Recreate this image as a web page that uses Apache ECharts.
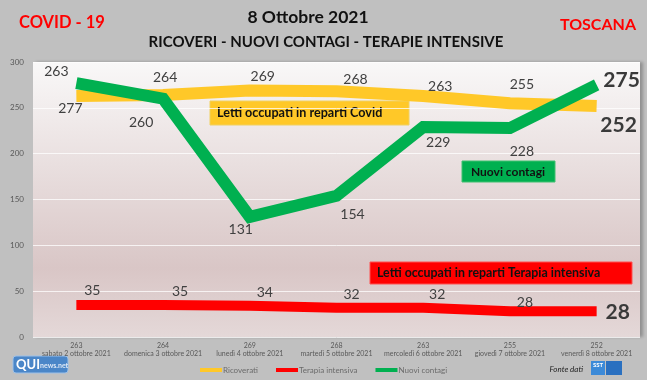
<!DOCTYPE html>
<html><head><meta charset="utf-8">
<script src="https://cdn.jsdelivr.net/npm/echarts@6/dist/echarts.min.js"></script>
<style>html,body{margin:0;padding:0;background:#c0c0c0;}#c{width:647px;height:380px;}</style>
</head><body><div id="c"></div>
<script>
const days = ['sabato 2 ottobre 2021','domenica 3 ottobre 2021','lunedì 4 ottobre 2021','martedì 5 ottobre 2021','mercoledì 6 ottobre 2021','giovedì 7 ottobre 2021','venerdì 8 ottobre 2021'];
const tickTop = ['263','264','269','268','263','255','252'];
const ricoverati = [263,264,269,268,263,255,252];
const contagi = [277,260,131,154,229,228,275];
const terapia = [35,35,34,32,32,28,28];

const F = 'Lato, "Open Sans", sans-serif';
const offY = [[-20,-24],[2,-18],[13,-14],[19,-12],[17,-9],[12,-19],[22,19]];
const offG = [[-6,25],[-22,24],[-9,13],[16,19],[15,15],[12,23],[25,-5]];
const offR = [[16,-14],[17,-13],[15,-13],[15,-13],[14,-13],[15,-9],[21,1]];

function mk(vals, offs){
  return vals.map((v,i)=>{
    const last = i===vals.length-1;
    return {value:v, label:{offset:offs[i], fontSize: last?21:14, fontWeight: last?'bold':'normal', color: last?'#3a3a3a':'#404040'}};
  });
}
const baseLabel = {show:true, position:'inside', fontFamily:F, align:'center', verticalAlign:'middle'};
const chart = echarts.init(document.getElementById('c'));
chart.setOption({
  backgroundColor:'#c0c0c0',
  animation:false,
  grid:{left:33,right:7,top:62,bottom:43,show:true,borderWidth:0,
    backgroundColor:new echarts.graphic.LinearGradient(0,0,0,1,[{offset:0,color:'#f9f8f8'},{offset:0.75,color:'#d9c6c6'},{offset:1,color:'#e4d8d8'}]),
    shadowColor:'rgba(0,0,0,0.25)',shadowBlur:3,shadowOffsetX:3,shadowOffsetY:0},
  legend:{left:200,top:366,itemWidth:22,itemHeight:4,itemGap:18,icon:'rect',padding:0,
    textStyle:{fontSize:8,color:'#6a6a6a',fontFamily:F,padding:[0,0,0,-4]},
    data:['Ricoverati','Terapia intensiva','Nuovi contagi']},
  xAxis:{type:'category',data:days,boundaryGap:true,
    axisLine:{show:false},axisTick:{show:false},
    axisLabel:{interval:0,margin:4,fontSize:7,color:'#595959',fontFamily:F,lineHeight:8.5,
      formatter:(v,i)=>tickTop[i]+'\n'+v}},
  yAxis:{type:'value',min:0,max:300,interval:50,
    axisLine:{show:false},axisTick:{show:false},
    axisLabel:{fontSize:8,color:'#595959',fontFamily:F,margin:9},
    splitLine:{lineStyle:{color:'rgba(255,255,255,0.75)',width:1}}},
  series:[
    {name:'Ricoverati',type:'line',data:mk(ricoverati,offY),
      lineStyle:{width:12,color:'#ffc828',cap:'butt'},symbol:'circle',symbolSize:0.01,itemStyle:{color:'#ffc828'},
      label:baseLabel,z:2},
    {name:'Terapia intensiva',type:'line',data:mk(terapia,offR),
      lineStyle:{width:10,color:'#ff0000',cap:'butt'},symbol:'circle',symbolSize:0.01,itemStyle:{color:'#ff0000'},
      label:baseLabel,z:3},
    {name:'Nuovi contagi',type:'line',data:mk(contagi,offG),
      lineStyle:{width:12,color:'#00b050',cap:'butt',join:'miter'},symbol:'circle',symbolSize:0.01,itemStyle:{color:'#00b050'},
      label:baseLabel,z:4}
  ],
  graphic:[
    {type:'text',x:19,y:23,style:{text:'COVID - 19',fill:'#ff0000',font:'bold 16.5px '+F,verticalAlign:'middle'}},
    {type:'text',x:636,y:25,style:{text:'TOSCANA',fill:'#ff0000',font:'bold 16px '+F,align:'right',verticalAlign:'middle'}},
    {type:'text',x:308,y:17,style:{text:'8 Ottobre 2021',fill:'#111',font:'bold 17.5px '+F,align:'center',verticalAlign:'middle'}},
    {type:'text',x:326,y:42,style:{text:'RICOVERI - NUOVI CONTAGI - TERAPIE INTENSIVE',fill:'#111',font:'bold 15px '+F,align:'center',verticalAlign:'middle'}},
    {type:'group',x:210,y:101,z:10,children:[
      {type:'rect',shape:{x:0,y:0,width:199,height:24},style:{fill:'#ffc828',stroke:'#f0d060',lineWidth:1}},
      {type:'text',x:7,y:12,style:{text:'Letti occupati in reparti Covid',fill:'#111',font:'bold 12.6px '+F,verticalAlign:'middle'}}]},
    {type:'group',x:462,y:161,z:10,children:[
      {type:'rect',shape:{x:0,y:0,width:93,height:21},style:{fill:'#00b050',stroke:'#40c070',lineWidth:1}},
      {type:'text',x:46,y:11,style:{text:'Nuovi contagi',fill:'#111',font:'bold 12px '+F,align:'center',verticalAlign:'middle'}}]},
    {type:'group',x:370,y:262,z:10,children:[
      {type:'rect',shape:{x:0,y:0,width:262,height:22},style:{fill:'#ff0000',stroke:'#ff5050',lineWidth:1}},
      {type:'text',x:7,y:11,style:{text:'Letti occupati in reparti Terapia intensiva',fill:'#111',font:'bold 12.4px '+F,verticalAlign:'middle'}}]},
    {type:'group',x:13,y:356,children:[
      {type:'rect',shape:{x:0,y:0,width:55,height:17,r:3},style:{fill:'#4a86c8',stroke:'#9cc0e8',lineWidth:1}},
      {type:'text',x:3,y:9,style:{text:'QUI',fill:'#ffffff',font:'bold 13px '+F,verticalAlign:'middle'}},
      {type:'text',x:27,y:10,style:{text:'news.net',fill:'#dde8f5',font:'bold 7px '+F,verticalAlign:'middle'}}]},
    {type:'text',x:583,y:369,style:{text:'Fonte dati',fill:'#222',font:'italic 8px '+F,align:'right',verticalAlign:'middle'}},
    {type:'group',x:591,y:361,children:[
      {type:'rect',shape:{x:0,y:0,width:14,height:14},style:{fill:'#3c8ad8'}},
      {type:'rect',shape:{x:15,y:0,width:16,height:14},style:{fill:'#2a70c0'}},
      {type:'text',x:2,y:4,style:{text:'SST',fill:'#fff',font:'bold 6px '+F,verticalAlign:'middle'}}]}
  ]
});
</script></body></html>
